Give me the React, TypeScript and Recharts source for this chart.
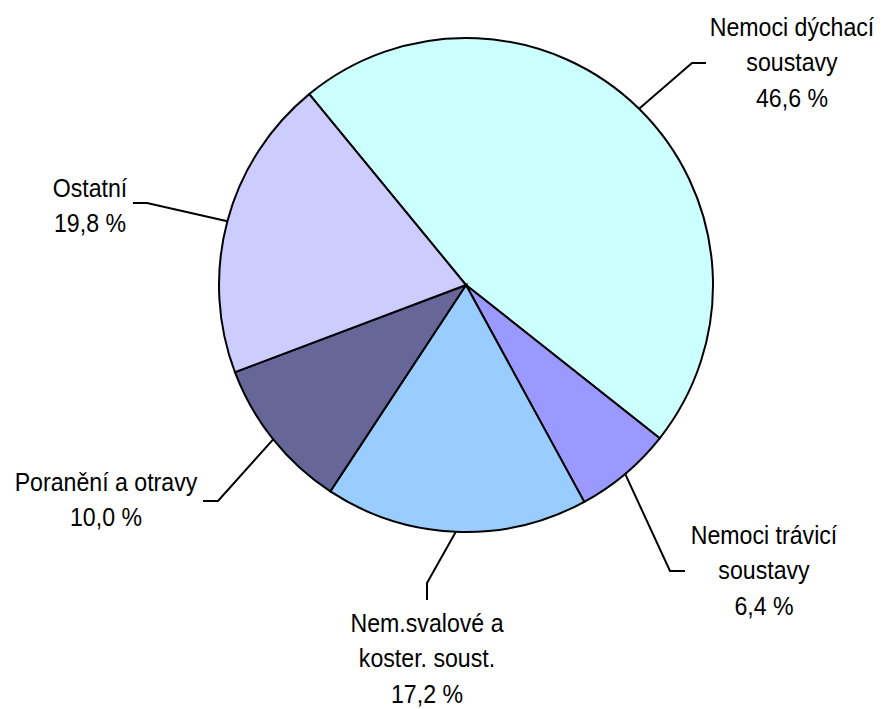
import { PieChart, Pie, Cell } from 'recharts';

// kategorie a podíly (%)
const categories = [
  'Nemoci dýchací soustavy',
  'Nemoci trávicí soustavy',
  'Nem.svalové a koster. soust.',
  'Poranění a otravy',
  'Ostatní',
];
const shares = [46.6, 6.4, 17.2, 10.0, 19.8];
const labelTexts = [
  ['Nemoci dýchací', 'soustavy'],
  ['Nemoci trávicí', 'soustavy'],
  ['Nem.svalové a', 'koster. soust.'],
  ['Poranění a otravy'],
  ['Ostatní'],
];
const colors = ['#CCFFFF', '#9999FF', '#99CCFF', '#666699', '#CCCCFF'];

// umístění popisků vůči středu koláče
const labelLayout = [
  { bend: [226, -222], end: [240, -222], text: [326, -249] },
  { bend: [204, 286], end: [219, 286], text: [298, 259] },
  { bend: [-39, 298], end: [-39, 315], text: [-39, 347] },
  { bend: [-248, 216], end: [-263, 216], text: [-360, 206] },
  { bend: [-319, -82], end: [-333, -82], text: [-376, -88] },
];

const data = categories.map((name, i) => ({ name, value: shares[i] }));

const RAD = Math.PI / 180;
const LINE_H = 35.5;
const SX = 0.89;

const renderLabel = (props: any) => {
  const { cx, cy, midAngle, outerRadius, index, value } = props;
  const sx = cx + outerRadius * Math.cos(-midAngle * RAD);
  const sy = cy + outerRadius * Math.sin(-midAngle * RAD);
  const lay = labelLayout[index];
  const lines = [...labelTexts[index], `${value.toFixed(1).replace('.', ',')} %`];
  const tx = cx + lay.text[0];
  const ty = cy + lay.text[1];
  return (
    <g key={`lbl-${index}`}>
      <polyline
        points={`${sx},${sy} ${cx + lay.bend[0]},${cy + lay.bend[1]} ${cx + lay.end[0]},${cy + lay.end[1]}`}
        fill="none"
        stroke="#000"
        strokeWidth={2}
      />
      <g transform={`translate(${tx},0) scale(${SX},1) translate(${-tx},0)`}>
        <text x={tx} y={ty} textAnchor="middle" fontSize={26} fill="#000" fontFamily="'Liberation Sans', Arial, sans-serif">
          {lines.map((t, j) => (
            <tspan key={j} x={tx} dy={j === 0 ? 0 : LINE_H}>
              {t}
            </tspan>
          ))}
        </text>
      </g>
    </g>
  );
};

export default function App() {
  return (
    <div style={{ width: 883, height: 709, background: '#fff' }}>
      <style>{`body{margin:0;}`}</style>
      <PieChart width={883} height={709} margin={{ top: 0, right: 0, bottom: 0, left: 0 }}>
        <Pie
          data={data}
          dataKey="value"
          nameKey="name"
          cx={466}
          cy={285}
          outerRadius={247}
          startAngle={129.4}
          endAngle={-230.6}
          stroke="#000"
          strokeWidth={2}
          label={renderLabel}
          labelLine={false}
          isAnimationActive={false}
        >
          {data.map((d, i) => (
            <Cell key={d.name} fill={colors[i]} />
          ))}
        </Pie>
      </PieChart>
    </div>
  );
}
